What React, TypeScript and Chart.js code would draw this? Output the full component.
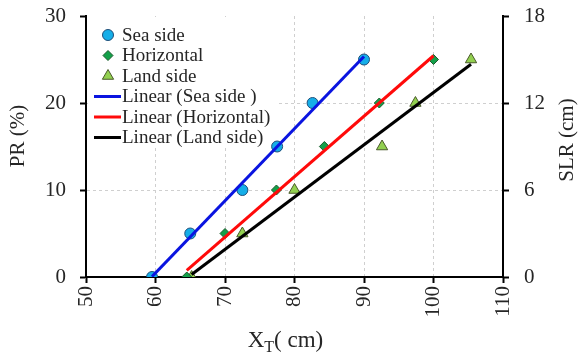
import { useEffect, useRef } from "react";
import { Chart, registerables } from "chart.js";

Chart.register(...registerables);

// Measured points: X_T (cm) against PR (%)
const SEA_X = [59.5, 65, 72.5, 77.5, 82.6, 90];
const SEA_PR = [0, 5, 10, 15, 20, 25];
const HOR_X = [64.5, 70, 77.4, 84.3, 92.2, 100];
const HOR_PR = [0, 5, 10, 15, 20, 25];
const LAND_X = [65.2, 72.5, 80, 92.6, 97.4, 105.4];
const LAND_PR = [0, 5, 10, 15, 20, 25];

const SERIES_NAMES = ["Sea side", "Horizontal", "Land side"];
const TREND_NAMES = ["Linear (Sea side )", "Linear (Horizontal)", "Linear (Land side)"];

// Axis ticks
const X_TICKS = [50, 60, 70, 80, 90, 100, 110];
const PR_TICKS = [0, 10, 20, 30];
const SLR_TICKS = [0, 6, 12, 18];

const SERIF = '"Liberation Serif", "Times New Roman", serif';
const TEXT = "#262626";

const pts = (xs: number[], ys: number[]) => xs.map((x, i) => ({ x, y: ys[i] }));

// Least-squares straight line over the x-range of the points
function linearFit(xs: number[], ys: number[]) {
  const n = xs.length;
  const mx = xs.reduce((a, b) => a + b, 0) / n;
  const my = ys.reduce((a, b) => a + b, 0) / n;
  let sxy = 0;
  let sxx = 0;
  for (let i = 0; i < n; i++) {
    sxy += (xs[i] - mx) * (ys[i] - my);
    sxx += (xs[i] - mx) * (xs[i] - mx);
  }
  const slope = sxy / sxx;
  const x0 = Math.min(...xs);
  const x1 = Math.max(...xs);
  return [
    { x: x0, y: my + slope * (x0 - mx) },
    { x: x1, y: my + slope * (x1 - mx) },
  ];
}

function drawMarker(ctx: CanvasRenderingContext2D, style: string, x: number, y: number, r: number) {
  ctx.beginPath();
  if (style === "circle") {
    ctx.arc(x, y, r, 0, Math.PI * 2);
  } else if (style === "rectRot") {
    ctx.moveTo(x, y - r);
    ctx.lineTo(x + r, y);
    ctx.lineTo(x, y + r);
    ctx.lineTo(x - r, y);
  } else {
    ctx.moveTo(x, y - r);
    ctx.lineTo(x + r * Math.sin(Math.PI / 3), y + r / 2);
    ctx.lineTo(x - r * Math.sin(Math.PI / 3), y + r / 2);
  }
  ctx.closePath();
  ctx.fill();
  ctx.stroke();
}

const legendPlugin = {
  id: "boxLegend",
  beforeDatasetsDraw(chart: any) {
    const ctx: CanvasRenderingContext2D = chart.ctx;
    const left = chart.chartArea.left;
    const top = chart.chartArea.top;
    ctx.save();
    ctx.fillStyle = "#ffffff";
    ctx.fillRect(left + 2, top + 1, 189, 130);
    ctx.font = `19px ${SERIF}`;
    ctx.textBaseline = "middle";
    ctx.textAlign = "left";
    const rowH = 20.5;
    const y0 = top + 19;
    chart.data.datasets.forEach((ds: any, i: number) => {
      const y = y0 + i * rowH;
      if (ds.showLine) {
        ctx.strokeStyle = ds.borderColor;
        ctx.lineWidth = ds.borderWidth;
        ctx.beginPath();
        ctx.moveTo(left + 8, y);
        ctx.lineTo(left + 35, y);
        ctx.stroke();
      } else {
        ctx.fillStyle = ds.backgroundColor;
        ctx.strokeStyle = ds.borderColor;
        ctx.lineWidth = ds.borderWidth;
        drawMarker(ctx, ds.pointStyle, left + 22, y, ds.pointRadius);
      }
      ctx.fillStyle = TEXT;
      ctx.fillText(ds.label, left + 36, y + 1);
    });
    ctx.restore();
  },
};

const titlesPlugin = {
  id: "axisTitles",
  afterDraw(chart: any) {
    const ctx: CanvasRenderingContext2D = chart.ctx;
    const { left, right, top, bottom } = chart.chartArea;
    ctx.save();
    ctx.fillStyle = TEXT;
    ctx.textAlign = "center";
    ctx.textBaseline = "middle";
    ctx.font = `21px ${SERIF}`;

    ctx.save();
    ctx.translate(18, top + 120);
    ctx.rotate(-Math.PI / 2);
    ctx.fillText("PR (%)", 0, 0);
    ctx.restore();

    ctx.save();
    ctx.translate(right + 64, top + 124);
    ctx.rotate(-Math.PI / 2);
    ctx.fillText("SLR (cm)", 0, 0);
    ctx.restore();

    // X_T( cm) with a subscript T
    const big = `23px ${SERIF}`;
    const small = `16px ${SERIF}`;
    ctx.textAlign = "left";
    ctx.textBaseline = "alphabetic";
    ctx.font = big;
    const wX = ctx.measureText("X").width;
    const wRest = ctx.measureText("( cm)").width;
    ctx.font = small;
    const wT = ctx.measureText("T").width;
    const total = wX + wT + wRest;
    const cx = (left + right) / 2 - 9;
    let x = cx - total / 2;
    const base = bottom + 70;
    ctx.font = big;
    ctx.fillText("X", x, base);
    x += wX;
    ctx.font = small;
    ctx.fillText("T", x, base + 5);
    x += wT;
    ctx.font = big;
    ctx.fillText("( cm)", x, base);
    ctx.restore();
  },
};

// Fixed axis thickness; label overhang must not push the plot area inward
const fixWidth = (w: number) => (s: any) => {
  s.width = w;
  s.paddingTop = 0;
  s.paddingBottom = 0;
};

export default function App() {
  const ref = useRef<HTMLCanvasElement>(null);

  useEffect(() => {
    const canvas = ref.current;
    if (!canvas) return;

    const gridColor = "#cfcfcf";
    const tickFont = { family: SERIF, size: 21 };

    const chart = new Chart(canvas, {
      type: "scatter",
      data: {
        datasets: [
          {
            label: SERIES_NAMES[0],
            data: pts(SEA_X, SEA_PR),
            pointStyle: "circle",
            pointRadius: 5.5,
            backgroundColor: "#15aee8",
            borderColor: "#1f4e79",
            borderWidth: 1,
            order: 2,
          },
          {
            label: SERIES_NAMES[1],
            data: pts(HOR_X, HOR_PR),
            pointStyle: "rectRot",
            pointRadius: 5,
            backgroundColor: "#13a04a",
            borderColor: "#1d5a2c",
            borderWidth: 1,
            order: 2,
          },
          {
            label: SERIES_NAMES[2],
            data: pts(LAND_X, LAND_PR),
            pointStyle: "triangle",
            pointRadius: 6.5,
            backgroundColor: "#92d050",
            borderColor: "#4a5a2a",
            borderWidth: 1,
            order: 2,
          },
          {
            label: TREND_NAMES[0],
            data: linearFit(SEA_X, SEA_PR),
            showLine: true,
            pointRadius: 0,
            borderColor: "#0a14e0",
            borderWidth: 3,
            order: 1,
          },
          {
            label: TREND_NAMES[1],
            data: linearFit(HOR_X, HOR_PR),
            showLine: true,
            pointRadius: 0,
            borderColor: "#ff0a0a",
            borderWidth: 3,
            order: 1,
          },
          {
            label: TREND_NAMES[2],
            data: linearFit(LAND_X, LAND_PR),
            showLine: true,
            pointRadius: 0,
            borderColor: "#000000",
            borderWidth: 3,
            order: 1,
          },
        ] as any,
      },
      options: {
        responsive: false,
        animation: false,
        events: [],
        layout: { padding: { top: 16, left: 0, right: 0, bottom: 0 } },
        plugins: {
          legend: { display: false },
          tooltip: { enabled: false },
        },
        scales: {
          x: {
            type: "linear",
            position: "bottom",
            min: X_TICKS[0],
            max: X_TICKS[X_TICKS.length - 1],
            afterBuildTicks: (s: any) => {
              s.ticks = X_TICKS.map((value) => ({ value }));
            },
            afterFit: (s: any) => {
              s.height = 81;
            },
            ticks: {
              font: tickFont,
              color: TEXT,
              minRotation: 90,
              maxRotation: 90,
              padding: 3,
            },
            grid: {
              color: gridColor,
              lineWidth: 1,
              tickColor: "#000",
              tickWidth: 2,
              tickLength: 6,
            },
            border: { display: true, color: "#000", width: 2, dash: [3, 3] },
          },
          y: {
            type: "linear",
            position: "left",
            min: PR_TICKS[0],
            max: PR_TICKS[PR_TICKS.length - 1],
            afterBuildTicks: (s: any) => {
              s.ticks = PR_TICKS.map((value) => ({ value }));
            },
            afterFit: fixWidth(86),
            ticks: { font: tickFont, color: TEXT, padding: 14 },
            grid: {
              color: (c: any) =>
                c.tick && c.tick.value === PR_TICKS[PR_TICKS.length - 1] ? "rgba(0,0,0,0)" : gridColor,
              lineWidth: 1,
              tickColor: "#000",
              tickWidth: 2,
              tickLength: 6,
            },
            border: { display: true, color: "#000", width: 2, dash: [3, 3] },
          },
          y2: {
            type: "linear",
            position: "right",
            min: SLR_TICKS[0],
            max: SLR_TICKS[SLR_TICKS.length - 1],
            afterBuildTicks: (s: any) => {
              s.ticks = SLR_TICKS.map((value) => ({ value }));
            },
            afterFit: fixWidth(76),
            ticks: { font: tickFont, color: TEXT, padding: 15 },
            grid: {
              drawOnChartArea: false,
              tickColor: "#000",
              tickWidth: 2,
              tickLength: 6,
            },
            border: { display: true, color: "#000", width: 2 },
          },
        },
      } as any,
      plugins: [legendPlugin, titlesPlugin],
    });

    return () => chart.destroy();
  }, []);

  return (
    <div style={{ position: "fixed", left: 0, top: 0, width: 579, height: 358, background: "#fff" }}>
      <canvas ref={ref} width={579} height={358} style={{ display: "block", width: 579, height: 358 }} />
    </div>
  );
}
